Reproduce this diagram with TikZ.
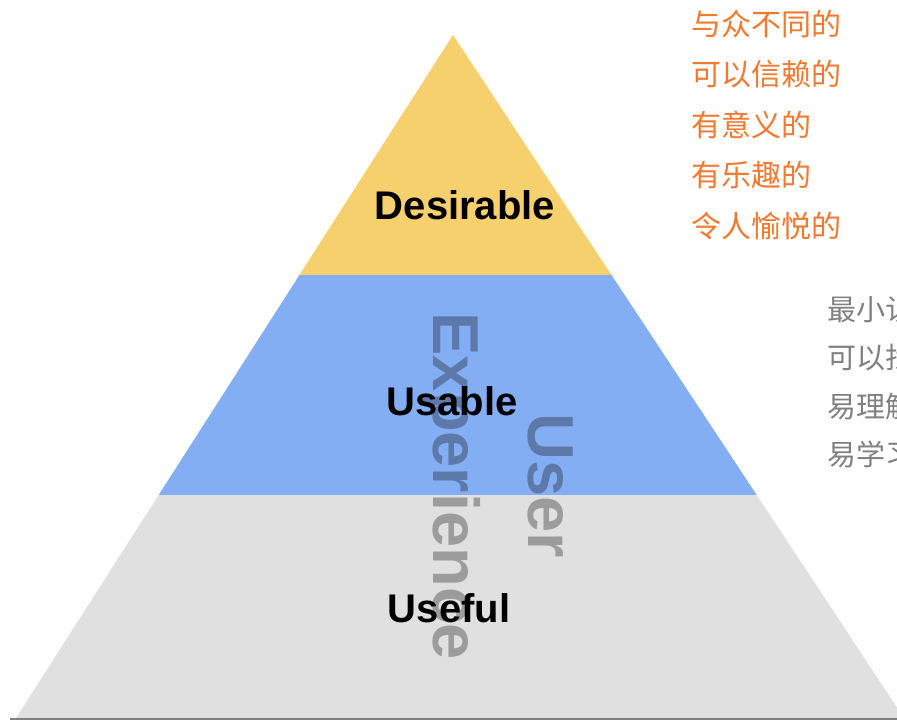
\documentclass[tikz,border=0pt]{standalone}
\usepackage{fontspec}
\setmainfont{Liberation Sans}
\newfontfamily\cjk{Noto Sans CJK SC}
\usetikzlibrary{calc}
\definecolor{gelb}{RGB}{247,208,110}
\definecolor{blau}{RGB}{132,174,243}
\definecolor{grau}{RGB}{224,224,224}
\definecolor{orangetext}{RGB}{242,121,46}
\definecolor{grautext}{RGB}{128,128,128}
\tikzset{
    stufe/.style={font=\bfseries\fontsize{40}{48}\selectfont, anchor=base, inner sep=0pt},
    ux/.style={font=\bfseries\fontsize{65}{78}\selectfont, text=black, text opacity=0.3, rotate=-90, anchor=base, inner sep=0pt},
    wunsch/.style={font=\cjk\fontsize{30}{36}\selectfont, text=orangetext, anchor=base west, inner sep=0pt},
    nutzbar/.style={font=\cjk\fontsize{29}{35}\selectfont, text=grautext, anchor=base west, inner sep=0pt}
}

\begin{document}
\begin{tikzpicture}[x=1pt,y=-1pt]
    % Bildrahmen
    \useasboundingbox (0,0) rectangle (897,720);
    \clip (0,0) rectangle (897,720);

    % Spitze und Grundlinie der Pyramide
    \coordinate (S) at (453,35);
    \coordinate (L) at (16,718);
    \coordinate (R) at (904,718);
    \def\ta{0.3514} % Grenze gelb/blau
    \def\tb{0.6735} % Grenze blau/grau
    \coordinate (L1) at ($(S)!\ta!(L)$);
    \coordinate (R1) at ($(S)!\ta!(R)$);
    \coordinate (L2) at ($(S)!\tb!(L)$);
    \coordinate (R2) at ($(S)!\tb!(R)$);

    % Stufen
    \fill[gelb] (S) -- (R1) -- (L1) -- cycle;
    \fill[blau] (L1) -- (R1) -- (R2) -- (L2) -- cycle;
    \fill[grau] (L2) -- (R2) -- (R) -- (L) -- cycle;

    % Grundlinie
    \draw[line width=2pt, grautext] (10,719) -- (897,719);

    % Beschriftung der Stufen
    \node[stufe] (desirable) at (465,219) {Desirable};
    \node[stufe] (usable) at (452,415) {Usable};
    \node[stufe] (useful) at (449,622) {Useful};

    % senkrechter Schriftzug
    \node[ux] (user) at (528,486) {User};
    \node[ux] (experience) at (433,486) {Experience};

    % Texte rechts
    \foreach \wort [count=\i] in {与众不同的,可以信赖的,有意义的,有乐趣的,令人愉悦的}
        \node[wunsch] (wunsch\i) at (691,{35+50.5*(\i-1)}) {\wort};
    \foreach \wort [count=\i] in {最小认,可以找,易理解,易学习}
        \node[nutzbar] (nutzbar\i) at (827,{320+48.5*(\i-1)}) {\wort};
\end{tikzpicture}
\end{document}
